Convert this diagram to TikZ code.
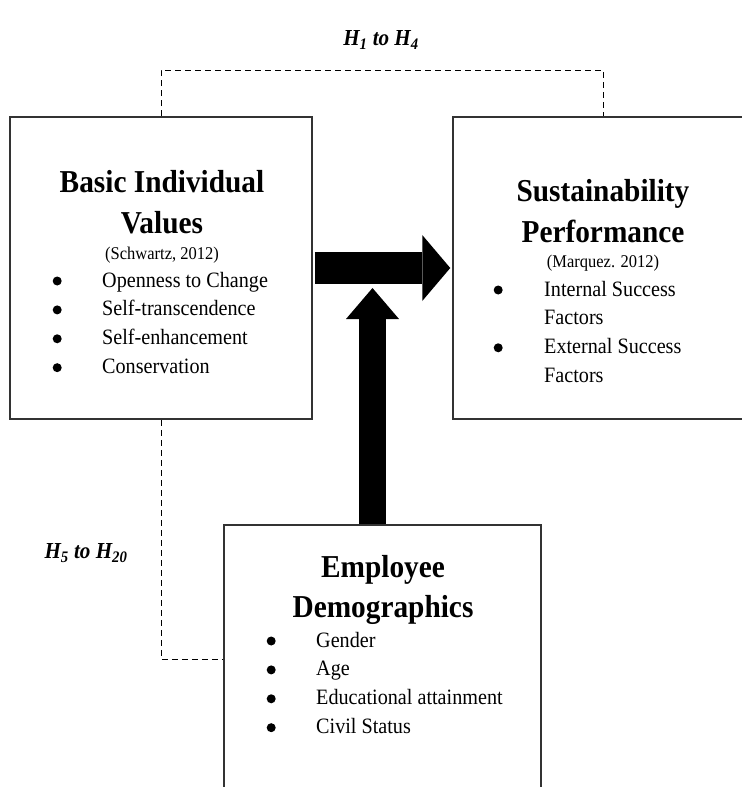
\documentclass[tikz,border=0pt]{standalone}
\usepackage{fontspec}
\setmainfont{Liberation Serif}[FakeStretch=0.92]
\usetikzlibrary{arrows.meta,positioning,calc}

\newcommand{\itemdot}{\tikz[baseline=-6bp]\fill (0,0) circle (4.5bp);}

\begin{document}
\begin{tikzpicture}[x=1bp, y=-1bp,
    box/.style={rectangle, draw=black!80, line width=1.5bp, inner sep=0pt},
    title/.style={align=center, inner sep=0pt, font=\fontsize{32}{41}\selectfont\bfseries},
    cite/.style={inner sep=0pt, font=\fontsize{18}{22}\selectfont},
    itemlist/.style={anchor=base west, inner sep=0pt, font=\fontsize{22}{29}\selectfont},
    hyp/.style={inner sep=0pt, font=\fontsize{23}{26}\selectfont\bfseries\itshape},
    link/.style={line width=1bp, dash pattern=on 6bp off 4bp},
    fatarrow/.style={draw=black}
]

\clip (0,0) rectangle (742,787);

% Boxes
\node[box, minimum width=302bp, minimum height=302bp] (values) at (161,268) {};
\node[box, minimum width=300bp, minimum height=302bp] (perf) at (603,268) {};
\node[box, minimum width=317bp, minimum height=268bp] (demo) at (382.5,659) {};

% Basic individual values
\node[title] (valuestitle) at (162,202.5) {Basic Individual\\Values};
\node[cite] (valuescite) at (162,255) {(Schwartz, 2012)};
\node[itemlist] (valueslist) at (52.5,287) {\begin{tabular}[t]{@{}p{49.5bp}@{}l@{}}
    \itemdot & Openness to Change\\
    \itemdot & Self-transcendence\\
    \itemdot & Self-enhancement\\
    \itemdot & Conservation
\end{tabular}};

% Sustainability performance
\node[title] (perftitle) at (603,211) {Sustainability\\Performance};
\node[cite] (perfcite) at (603,263) {(Marquez. 2012)};
\node[itemlist] (perflist) at (493.5,296) {\begin{tabular}[t]{@{}p{50.5bp}@{}l@{}}
    \itemdot & Internal Success\\
    & Factors\\
    \itemdot & External Success\\
    & Factors
\end{tabular}};

% Employee demographics
\node[title] (demotitle) at (383,590) {Employee\\Demographics};
\node[itemlist] (demolist) at (266.5,647) {\begin{tabular}[t]{@{}p{49.5bp}@{}l@{}}
    \itemdot & Gender\\
    \itemdot & Age\\
    \itemdot & Educational attainment\\
    \itemdot & Civil Status
\end{tabular}};

% Hypotheses labels
\node[hyp] (hypa) at (381,40) {H\textsubscript{1} to H\textsubscript{4}};
\node[hyp] (hypb) at (86,553) {H\textsubscript{5} to H\textsubscript{20}};

% Dashed links
\draw[link] (values.north) -- ++(0,-46) -| (perf.north);
\draw[link] (values.south) |- (demo.west);

% Big arrows
\draw[fatarrow, line width=32bp, -{Triangle[length=28bp, width=66bp, line width=0pt]}]
    ($(values.east)+(2,0)$) -- ($(perf.west)+(-2,0)$);
\coordinate (vtip) at (372.5,288);
\draw[fatarrow, line width=27bp, -{Triangle[length=31bp, width=53bp, line width=0pt]}]
    (demo.north -| vtip) -- (vtip);

\end{tikzpicture}
\end{document}
